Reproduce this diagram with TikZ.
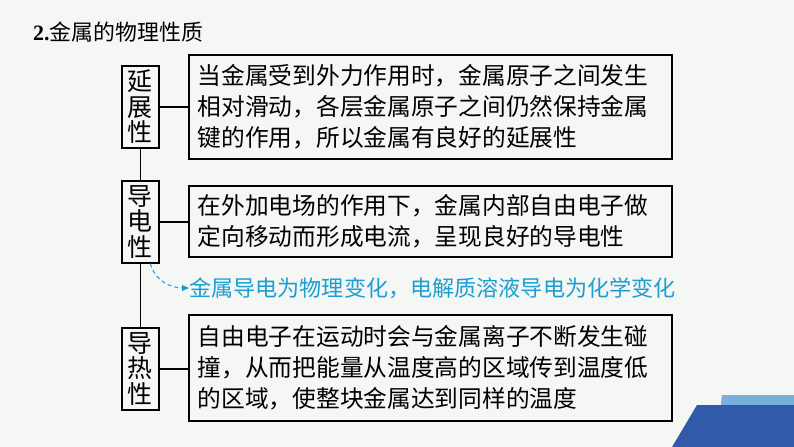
\documentclass[tikz,border=0pt]{standalone}
\usepackage{fontspec}
\setmainfont{Noto Sans CJK SC}
\newfontfamily\numfont{Liberation Serif}
\usetikzlibrary{arrows.meta}
\definecolor{bgpaper}{RGB}{245,247,245}
\definecolor{notecyan}{RGB}{28,158,210}
\definecolor{bandlight}{RGB}{122,174,220}
\definecolor{banddark}{RGB}{50,90,170}
\begin{document}
\begin{tikzpicture}[x=1bp,y=-1bp,
  lbl/.style={draw, line width=1.6bp, anchor=north west, minimum width=37bp, minimum height=82bp,
    inner sep=0pt, align=center, font=\fontsize{25}{25.5}\selectfont},
  desc/.style={draw, line width=1.6bp, anchor=north west, minimum width=483bp, text width=465bp,
    inner sep=0pt, align=left, font=\fontsize{23.8}{31}\selectfont},
  link/.style={line width=1.6bp}]
\fill[bgpaper] (0,0) rectangle (794,447);
\useasboundingbox (0,0) rectangle (794,447);
% bottom-right band
\fill[bandlight] (722,395) -- (794,395) -- (794,447) -- (716,447) -- cycle;
\fill[banddark] (697,405) -- (794,405) -- (794,447) -- (672,447) -- cycle;

\node (title) at (33,32) [anchor=west, inner sep=0pt, font=\fontsize{22}{22}\selectfont] {{\numfont\bfseries 2.}金属的物理性质};

\node (duct) at (121,65) [lbl] {延\\展\\性};
\node (cond) at (121,180) [lbl] {导\\电\\性};
\node (heat) at (121,327) [lbl] {导\\热\\性};

\node (ductx) at (188,54) [desc, minimum height=104bp] {当金属受到外力作用时，金属原子之间发生\\相对滑动，各层金属原子之间仍然保持金属\\键的作用，所以金属有良好的延展性};
\node (condx) at (188,185) [desc, minimum height=71bp] {在外加电场的作用下，金属内部自由电子做\\定向移动而形成电流，呈现良好的导电性};
\node (heatx) at (188,314) [desc, minimum height=106bp] {自由电子在运动时会与金属离子不断发生碰\\撞，从而把能量从温度高的区域传到温度低\\的区域，使整块金属达到同样的温度};

\node (note) at (189,288) [anchor=west, inner sep=0pt, text=notecyan, font=\fontsize{22.2}{22}\selectfont] {金属导电为物理变化，电解质溶液导电为化学变化};

\draw[link]
(duct.south) to (cond.north)
(cond.south) to (heat.north)
(duct.east) to (ductx.west |- duct.east)
(cond.east) to (condx.west |- cond.east)
(heat.east) to (heatx.west |- heat.east);

\draw[notecyan, line width=1bp, dash pattern=on 4bp off 3bp, -{Triangle[length=7bp,width=6bp]}]
([xshift=10bp]cond.south) to[out=-75, in=180] (note.west);
\end{tikzpicture}
\end{document}
